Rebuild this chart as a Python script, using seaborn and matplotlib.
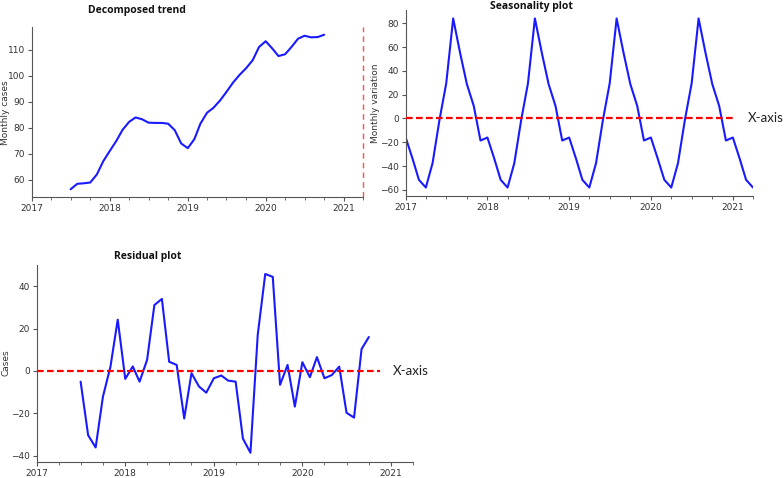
import numpy as np
import pandas as pd
import matplotlib
matplotlib.use("Agg")
import matplotlib.pyplot as plt
import matplotlib.dates as mdates
import seaborn as sns

# ---------------- data ----------------
trend_start = "2017-07-01"
trend_values = [56.3, 58.4, 58.6, 58.9, 62.0, 67.1,
                71.1, 75.0, 79.1, 82.2, 83.9, 83.2, 81.9, 81.8, 81.8, 81.5, 79.0, 73.9,
                72.1, 75.6, 81.5, 85.7, 87.6, 90.4, 93.7, 97.3, 100.3, 102.8, 105.9, 111.0,
                113.2, 110.4, 107.5, 108.2, 111.0, 114.2, 115.3, 114.7, 114.8, 115.7]

season_start = "2017-01-01"
season_values = [-16, -34, -51.5, -58, -37.5, -1, 29.5, 84, 55, 29, 10.5, -18.5,
                 -16, -34, -51.5, -58, -37.5, -1, 29.5, 84, 55, 29, 10.5, -18.5,
                 -16, -34, -51.5, -58, -37.5, -1, 29.5, 84, 55, 29, 10.5, -18.5,
                 -16, -34, -51.5, -58, -37.5, -1, 29.5, 84, 55, 29, 10.5, -18.5,
                 -16, -34, -51.5, -58]

resid_start = "2017-07-01"
resid_values = [-5.1, -30.4, -36.2, -12.2, 2.0, 24.2,
                -3.8, 2.1, -5.1, 5.2, 31.1, 34.0, 4.3, 2.8, -22.5, -1.1, -7.4, -10.3,
                -3.5, -2.2, -4.6, -5.1, -32.0, -38.7, 17.0, 45.8, 44.4, -6.6, 2.8, -16.9,
                4.1, -3.0, 6.5, -3.5, -2.0, 2.0, -19.8, -22.1, 10.3, 16.0]

season_zero_end = "2021-01-01"
resid_zero_end = "2020-11-15"

trend_df = pd.DataFrame({"date": pd.date_range(trend_start, periods=len(trend_values), freq="MS"),
                         "value": trend_values})
season_df = pd.DataFrame({"date": pd.date_range(season_start, periods=len(season_values), freq="MS"),
                          "value": season_values})
resid_df = pd.DataFrame({"date": pd.date_range(resid_start, periods=len(resid_values), freq="MS"),
                         "value": resid_values})

# ---------------- style ----------------
sns.set_style("ticks")
plt.rcParams["font.family"] = ["DejaVu Sans"]
plt.rcParams["axes.edgecolor"] = "#555555"
plt.rcParams["xtick.color"] = "#555555"
plt.rcParams["ytick.color"] = "#555555"
plt.rcParams["xtick.labelcolor"] = "#333333"
plt.rcParams["ytick.labelcolor"] = "#333333"

W, H = 784, 478
fig = plt.figure(figsize=(W / 100, H / 100), dpi=100)

def rect(l, r, t, b):
    return [l / W, 1 - b / H, (r - l) / W, (b - t) / H]

ax_t = fig.add_axes(rect(32, 363, 27, 197))
ax_s = fig.add_axes(rect(405.7, 753, 10, 196))
ax_r = fig.add_axes(rect(36.7, 413, 265, 461.7))

xlim = (season_df["date"].iloc[0], season_df["date"].iloc[-1])
blue = "#1a1aff"

for ax, df in [(ax_t, trend_df), (ax_s, season_df), (ax_r, resid_df)]:
    sns.lineplot(data=df, x="date", y="value", ax=ax, color=blue, linewidth=1.5)
    ax.set_xlim(xlim)
    ax.xaxis.set_major_locator(mdates.YearLocator())
    ax.xaxis.set_major_formatter(mdates.DateFormatter("%Y"))
    ax.xaxis.set_minor_locator(mdates.MonthLocator(bymonth=[4, 7, 10]))
    ax.tick_params(axis="both", which="major", labelsize=6.5, length=3, width=0.8, pad=2)
    ax.tick_params(axis="x", which="minor", length=1.8, width=0.6)
    ax.set_xlabel("")
    ax.set_ylabel("")
    sns.despine(ax=ax)
    for sp in ["left", "bottom"]:
        ax.spines[sp].set_linewidth(0.8)

# y-axis labels
lfont = dict(fontsize=6.5, color="#333333", rotation=90, ha="center", va="center")
fig.text(6 / W, 1 - 113 / H, "Monthly cases", **lfont)
fig.text(376 / W, 1 - 103 / H, "Monthly variation", **lfont)
fig.text(6 / W, 1 - 363 / H, "Cases", **lfont)

# reference lines
ax_t.axvline(xlim[1], color="#ff5050", linestyle=(0, (4, 3)), linewidth=1.0,
             ymin=0, ymax=1, clip_on=False)
ax_s.hlines(0, season_df["date"].iloc[0], pd.Timestamp(season_zero_end), colors="red",
            linestyles=(0, (3, 1.5)), linewidth=1.6, zorder=3)
ax_r.hlines(0, pd.Timestamp("2017-01-01"), pd.Timestamp(resid_zero_end), colors="red",
            linestyles=(0, (3, 1.5)), linewidth=1.6, zorder=3, clip_on=False)
ax_r.set_xlim(xlim)

# titles
tfont = dict(fontsize=7.5, fontweight="bold", family=["Open Sans", "DejaVu Sans"], color="#111111",
             ha="center", va="center")
fig.text(137 / W, 1 - 11 / H, "Decomposed trend", **tfont)
fig.text(531 / W, 1 - 6 / H, "Seasonality plot", **tfont)
fig.text(148 / W, 1 - 257 / H, "Residual plot", **tfont)

# X-axis annotations
afont = dict(fontsize=9.5, family=["Lato", "DejaVu Sans"], color="#222222", ha="left", va="center")
fig.text(748 / W, 1 - 118 / H, "X-axis", **afont)
fig.text(393 / W, 1 - 371 / H, "X-axis", **afont)

fig.savefig("out.png", dpi=100)
